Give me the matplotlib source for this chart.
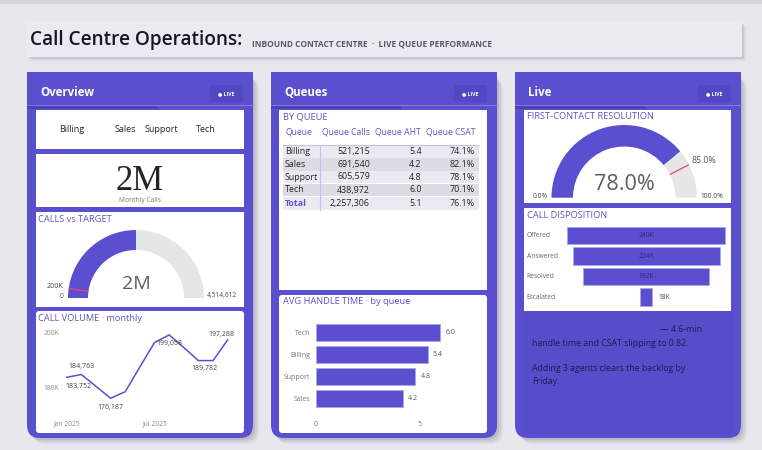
import matplotlib
matplotlib.use("Agg")
import numpy as np
import matplotlib.pyplot as plt
from matplotlib.patches import FancyBboxPatch, Rectangle, Wedge

plt.rcParams["font.family"] = ["Open Sans", "DejaVu Sans"]

# ---- data ----
slicer_queues = ["Billing", "Sales", "Support", "Tech"]

calls_total = 2257306
calls_gauge_max = 4514612
calls_target = 200000

months = ["Jan", "Feb", "Mar", "Apr", "May", "Jun",
          "Jul", "Aug", "Sep", "Oct", "Nov", "Dec"]
monthly_volume = [183752, 184763, 180500, 176187, 178550, 187500,
                  196300, 199058, 194500, 189782, 189800, 197288]
volume_label_months = [0, 1, 3, 7, 9, 11]
volume_ticks = [180000, 200000]
volume_tick_labels = ["180K", "200K"]
month_ticks = [0, 6]
month_tick_labels = ["Jan 2025", "Jul 2025"]

queue_names = ["Billing", "Sales", "Support", "Tech"]
queue_calls = [521215, 691540, 605579, 438972]
queue_aht = [5.4, 4.2, 4.8, 6.0]
queue_csat = [74.1, 82.1, 78.1, 70.1]
total_calls = 2257306
total_aht = 5.1
total_csat = 76.1

fcr_value = 78.0
fcr_target = 85.0

disposition_stages = ["Offered", "Answered", "Resolved", "Escalated"]
disposition_k = [240, 224, 192, 18]

# ---- style ----
W, H = 762, 450
PURPLE = "#5a4fcf"
PURPLE_TXT = "#5f55c9"
BG = "#e8e7ee"
GREY_ARC = "#e6e6e6"
PINK = "#e0457b"

fig = plt.figure(figsize=(W / 100, H / 100), dpi=100)
fig.patch.set_facecolor(BG)

bg = fig.add_axes([0, 0, 1, 1])
bg.set_xlim(0, W)
bg.set_ylim(H, 0)
bg.axis("off")


def px_axes(x0, y0, x1, y1):
    ax = fig.add_axes([x0 / W, 1 - y1 / H, (x1 - x0) / W, (y1 - y0) / H])
    ax.patch.set_alpha(0)
    return ax


def rbox(x0, y0, x1, y1, fc, r=0, z=2, alpha=1.0):
    bg.add_patch(FancyBboxPatch((x0, y0), x1 - x0, y1 - y0,
                                boxstyle=f"round,pad=0,rounding_size={r}",
                                fc=fc, ec="none", zorder=z, alpha=alpha))


def panel(x0, x1, title):
    y0, y1 = 72, 438
    # soft shadow
    for d, a in [(6, 0.15), (4, 0.25), (2, 0.35)]:
        rbox(x0 + d, y0 + d, x1 + d, y1 + d, "#9e9cab", r=13, z=1, alpha=a)
    rbox(x0, y0, x1, y1, PURPLE, r=13, z=2)
    bg.add_patch(Rectangle((x0, y0), x1 - x0, 20, fc=PURPLE, ec="none", zorder=2))
    # header tab shadow + divider
    bg.add_patch(Rectangle((x0, 105), 130, 4, fc="#4a40b4", ec="none", zorder=3, alpha=0.8))
    bg.plot([x0, x1], [105, 105], color="#8c84e0", lw=0.6, zorder=3)
    bg.add_patch(Rectangle((x1 - 43, 85), 33, 17, fc="#5248c4", ec="none", zorder=3))
    bg.text(x0 + 13, 92, title, color="white", fontsize=8.3, fontweight="bold",
            va="center", ha="left", zorder=4)
    bg.text(x1 - 27, 93.5, "\u25cf LIVE", color="white", fontsize=3.6, fontweight="bold",
            va="center", ha="center", zorder=4)


def card(x0, y0, x1, y1):
    bg.add_patch(Rectangle((x0, y0), x1 - x0, y1 - y0, fc="white", ec="none", zorder=5))


def card_title(x, y, s):
    bg.text(x, y, s, color=PURPLE_TXT, fontsize=6.7, va="center", ha="left", zorder=6)


def gauge(box, center, r_out, width, frac, target_frac):
    x0, y0, x1, y1 = box
    cx, cy = center
    ax = px_axes(x0, y0, x1, y1)
    ax.set_xlim(x0 - cx, x1 - cx)
    ax.set_ylim(cy - y1, cy - y0)
    ax.axis("off")
    ang = 180 - 180 * frac
    ax.add_patch(Wedge((0, 0), r_out, 0, ang, width=width, fc=GREY_ARC, ec="none"))
    ax.add_patch(Wedge((0, 0), r_out, ang, 180, width=width, fc=PURPLE, ec="none"))
    t = np.deg2rad(180 - 180 * target_frac)
    r_in = r_out - width
    ax.plot([r_in * np.cos(t), r_out * np.cos(t)], [r_in * np.sin(t), r_out * np.sin(t)],
            color=PINK, lw=0.9, solid_capstyle="butt")
    return ax


# ---- page / title bar ----
bg.add_patch(Rectangle((0, 0), W, 4, fc="#d6d5dc", ec="none", zorder=0))
for d, a in [(4, 0.15), (2, 0.3)]:
    rbox(27 + d, 22 + d, 742 + d, 57 + d, "#9e9cab", z=1, alpha=a)
rbox(27, 22, 742, 57, "#ebeaf1", z=2)
bg.text(30, 40, "Call Centre Operations:", fontsize=13.7, color="#18172a",
        fontweight="semibold", va="center", ha="left", zorder=3)
bg.text(252, 43.5, "INBOUND CONTACT CENTRE  \u00b7  LIVE QUEUE PERFORMANCE", fontsize=6.0,
        color="#5a5868", fontweight="bold", va="center", ha="left", zorder=3)

panel(27, 253, "Overview")
panel(271, 497, "Queues")
panel(515, 741, "Live")

# ---- Overview ----
card(36, 110, 244, 149)
for name, x in zip(slicer_queues, [72, 125, 161, 206]):
    bg.text(x, 130, name, fontsize=6.5, color="#252423", ha="center", va="center", zorder=6)

card(36, 154, 244, 207)
bg.text(140, 181, "2M", family="Liberation Serif", fontsize=25, color="#252423",
        ha="center", va="center", zorder=6)
bg.text(140, 201, "Monthly Calls", fontsize=4.8, color="#777777", ha="center", va="center", zorder=6)

card(36, 212, 244, 307)
card_title(38, 220, "CALLS vs TARGET")
gauge((60, 224, 214, 300), (136, 298), 68, 20, calls_total / calls_gauge_max,
      calls_target / calls_gauge_max)
bg.text(136, 284, "2M", fontsize=14, color="#605e5c", ha="center", va="center", zorder=7)
bg.text(64, 286, "200K", fontsize=5.2, color="#444444", ha="right", va="center", zorder=7)
bg.text(62, 296, "0", fontsize=4.8, color="#444444", ha="center", va="center", zorder=7)
bg.text(207, 296, "4,514,612", fontsize=4.8, color="#444444", ha="left", va="center", zorder=7)

bg.add_patch(FancyBboxPatch((36, 311), 208, 122, boxstyle="round,pad=0,rounding_size=3",
                            fc="white", ec="none", zorder=5))
card_title(38, 318.5, "CALL VOLUME \u00b7 monthly")
ax = px_axes(58, 325, 236, 415)
ax.set_zorder(8)
xs = list(range(len(months)))
ax.plot(xs, monthly_volume, color="#5a4fcf", lw=1.1)
ax.set_xlim(-0.594, 11.567)
ax.set_ylim(170140, 202640)
offsets = {0: (12, -9), 1: (0, 8), 3: (0, -9), 7: (0, -9), 9: (6, -8), 11: (-6, 5)}
for i in volume_label_months:
    ax.annotate(f"{monthly_volume[i]:,}", (i, monthly_volume[i]), xytext=offsets[i],
                textcoords="offset pixels", fontsize=5, color="#444444",
                ha="center", va="center")
ax.set_yticks(volume_ticks)
ax.set_yticklabels(volume_tick_labels)
ax.set_xticks(month_ticks)
ax.set_xticklabels(month_tick_labels)
ax.tick_params(length=0, labelsize=4.8, labelcolor="#888888")
ax.tick_params(axis="x", pad=4)
ax.tick_params(axis="y", pad=-1)
for s in ax.spines.values():
    s.set_visible(False)

# ---- Queues ----
card(279, 110, 487, 290)
card_title(283, 117, "BY QUEUE")
row_y = [151.7, 164.3, 177, 190, 203.3]
row_h = 12.6
for k, y in enumerate(row_y):
    fc = "#ebeaf2" if k % 2 == 0 else "#dddce4"
    bg.add_patch(Rectangle((283, y - row_h / 2), 196, row_h, fc=fc, ec="none", zorder=6))
bg.plot([283, 479], [145, 145], color="#c5c1ea", lw=0.8, zorder=7)
bg.plot([320, 320], [145, 209.6], color="#c5c1ea", lw=0.8, zorder=7)
hdr_y = 132.3
bg.text(285, hdr_y, "Queue", fontsize=6.2, color=PURPLE_TXT, ha="left", va="center", zorder=7)
for s, x in [("Queue Calls", 370), ("Queue AHT", 420.7), ("Queue CSAT", 475)]:
    bg.text(x, hdr_y, s, fontsize=6.2, color=PURPLE_TXT, ha="right", va="center", zorder=7)
rows = [(n, f"{c:,}", f"{a:.1f}", f"{p:.1f}%")
        for n, c, a, p in zip(queue_names, queue_calls, queue_aht, queue_csat)]
rows.append(("Total", f"{total_calls:,}", f"{total_aht:.1f}", f"{total_csat:.1f}%"))
for k, (row, y) in enumerate(zip(rows, row_y)):
    is_total = k == len(rows) - 1
    bg.text(285, y, row[0], fontsize=6.4, color=PURPLE_TXT if is_total else "#252423",
            fontweight="bold" if is_total else "normal", ha="left", va="center", zorder=7)
    for s, x in zip(row[1:], [370, 421.7, 475]):
        bg.text(x, y, s, fontsize=6.4, color="#252423", ha="right", va="center", zorder=7)

bg.add_patch(FancyBboxPatch((279, 295), 208, 138, boxstyle="round,pad=0,rounding_size=3",
                            fc="white", ec="none", zorder=5))
card_title(283, 301.5, "AVG HANDLE TIME \u00b7 by queue")
order = sorted(range(len(queue_names)), key=lambda i: -queue_aht[i])
ax = px_axes(316, 313, 480, 418)
ax.set_zorder(8)
ys = list(range(len(order)))
vals = [queue_aht[i] for i in order]
ax.barh(ys, vals, height=0.75, color=PURPLE, edgecolor="#aaa4ef", linewidth=0.6)
for y, v in zip(ys, vals):
    ax.text(v + 0.25, y, f"{v:.1f}", fontsize=5, color="#555555", va="center", ha="left")
ax.set_xlim(0, 7.93)
ax.set_ylim(3.873, -0.873)
ax.set_yticks(ys)
ax.set_yticklabels([queue_names[i] for i in order])
ax.set_xticks([0, 5])
ax.tick_params(length=0, labelsize=5, labelcolor="#777777")
ax.tick_params(axis="y", pad=4)
ax.tick_params(axis="x", pad=2)
for s in ax.spines.values():
    s.set_visible(False)

# ---- Live ----
card(524, 110, 731, 203)
card_title(527, 116.5, "FIRST-CONTACT RESOLUTION")
gauge((545, 120, 705, 200), (624.2, 197.7), 72.7, 21.5, fcr_value / 100, fcr_target / 100)
bg.text(624, 184, f"{fcr_value:.1f}%", fontsize=15.5, color="#605e5c", ha="center",
        va="center", zorder=9)
bg.text(540, 196, "0.0%", fontsize=4.8, color="#444444", ha="center", va="center", zorder=9)
bg.text(711.7, 196, "100.0%", fontsize=4.8, color="#444444", ha="center", va="center", zorder=9)
bg.text(691, 160.7, f"{fcr_target:.1f}%", fontsize=6.3, color="#555555", ha="left",
        va="center", zorder=9)

card(524, 208, 731, 311)
card_title(527, 215.7, "CALL DISPOSITION")
ax = px_axes(524, 224, 732, 309)
ax.set_zorder(8)
ys = list(range(len(disposition_stages)))
lefts = [-v / 2 for v in disposition_k]
ax.barh(ys, disposition_k, left=lefts, height=0.86, color=PURPLE, edgecolor="#aaa4ef",
        linewidth=0.6)
for y, v, name in zip(ys, disposition_k, disposition_stages):
    if v > 50:
        ax.text(0, y, f"{v}K", fontsize=4.8, color="#2e2a78", ha="center", va="center")
    else:
        ax.text(v / 2 + 9, y, f"{v}K", fontsize=4.8, color="#444444", ha="left", va="center")
    ax.text(-182, y, name, fontsize=4.8, color="#666666", ha="left", va="center")
ax.set_xlim(-185.9, 130.2)
ax.set_ylim(3.585, -0.561)
ax.axis("off")

bg.add_patch(Rectangle((524, 312), 209, 122, fc="#554ac6", ec="none", zorder=3, alpha=0.5))
txt_c = "#1f1c4f"
bg.text(701.7, 329, "\u2014 4.6-min", fontsize=6.3, color=txt_c, ha="right", va="center", zorder=6)
bg.text(531.7, 343.3, "handle time and CSAT slipping to 0.82.", fontsize=6.3, color=txt_c,
        ha="left", va="center", zorder=6)
bg.text(531.7, 368.3, "Adding 3 agents clears the backlog by", fontsize=6.3, color=txt_c,
        ha="left", va="center", zorder=6)
bg.text(531.7, 381, "Friday.", fontsize=6.3, color=txt_c, ha="left", va="center", zorder=6)

fig.savefig("out.png", dpi=100, facecolor=fig.get_facecolor())
